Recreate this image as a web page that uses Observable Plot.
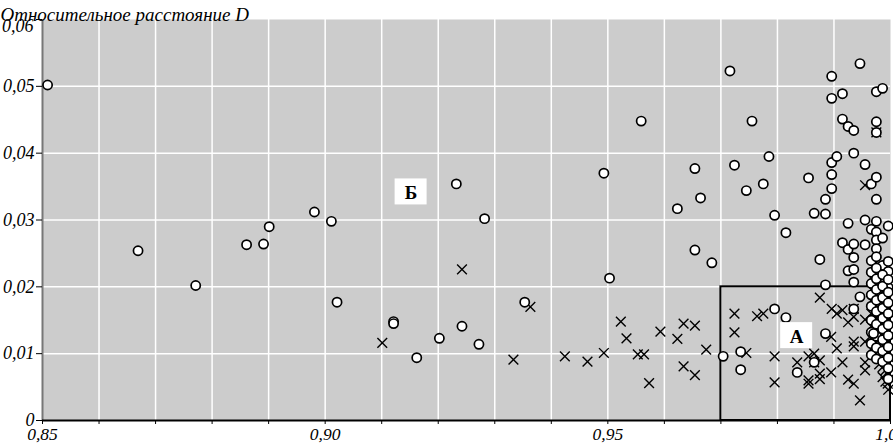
<!DOCTYPE html>
<html><head><meta charset="utf-8">
<script src="https://cdn.jsdelivr.net/npm/d3@7"></script>
<script src="https://cdn.jsdelivr.net/npm/@observablehq/plot@0.6"></script>
<style>body{margin:0;background:#fff} svg{display:block}</style>
</head><body><div id="chart"></div>
<script>
const title = "Относительное расстояние D";
const xTicks = [0.85,0.86,0.87,0.88,0.89,0.90,0.91,0.92,0.93,0.94,0.95,0.96,0.97,0.98,0.99,1.00];
const yTicks = [0,0.01,0.02,0.03,0.04,0.05,0.06];
const yTopTick = [0.06];
const xGrid = [0.86,0.87,0.88,0.89,0.90,0.91,0.92,0.93,0.94,0.95,0.96,0.97,0.98,0.99];
const yGrid = [0.01,0.02,0.03,0.04,0.05];
const boxA = [{x1: 0.97, x2: 1.00, y1: 0, y2: 0.02}];
const regionLabels = [{text: "А", x: 0.9834, y: 0.0127}, {text: "Б", x: 0.9152, y: 0.0342}];

// circles: [x, y]
const circles = [
[0.8509,0.0502],[0.8669,0.0254],[0.8771,0.0202],[0.8861,0.0263],[0.8891,0.0264],[0.8901,0.0290],
[0.8981,0.0312],[0.9011,0.0298],[0.9021,0.0177],[0.9121,0.0148],[0.9121,0.0145],[0.9162,0.0094],
[0.9202,0.0123],[0.9232,0.0354],[0.9242,0.0141],[0.9272,0.0114],[0.9282,0.0302],[0.9353,0.0177],
[0.9493,0.0370],[0.9503,0.0213],[0.9559,0.0448],[0.9623,0.0317],[0.9654,0.0377],[0.9654,0.0255],
[0.9664,0.0333],[0.9684,0.0236],[0.9704,0.0096],[0.9716,0.0523],[0.9724,0.0382],[0.9735,0.0103],
[0.9735,0.0076],[0.9745,0.0344],[0.9755,0.0448],[0.9775,0.0354],[0.9785,0.0395],[0.9795,0.0307],
[0.9795,0.0167],[0.9815,0.0281],[0.9815,0.0154],[0.9835,0.0072],[0.9855,0.0363],[0.9865,0.0310],
[0.9865,0.0087],[0.9875,0.0241],[0.9885,0.0331],[0.9885,0.0309],[0.9885,0.0203],[0.9885,0.0130],
[0.9896,0.0515],[0.9896,0.0482],[0.9896,0.0386],[0.9896,0.0368],[0.9896,0.0347],[0.9905,0.0395],
[0.9915,0.0489],[0.9915,0.0451],[0.9915,0.0266],[0.9925,0.0440],[0.9925,0.0295],[0.9925,0.0256],
[0.9925,0.0224],[0.9935,0.0434],[0.9935,0.0400],[0.9935,0.0264],[0.9935,0.0244],[0.9935,0.0226],
[0.9935,0.0207],[0.9935,0.0167],[0.9946,0.0534],[0.9946,0.0185],[0.9955,0.0383],[0.9955,0.0300],
[0.9955,0.0263],[0.9966,0.0354],[0.9966,0.0286],[0.9966,0.0239],[0.9975,0.0492],[0.9975,0.0447],
[0.9975,0.0431],[0.9975,0.0364],[0.9975,0.0331],[0.9975,0.0298],[0.9975,0.0282],[0.9975,0.0270],
[0.9975,0.0257],[0.9986,0.0497],[0.9986,0.0273],[0.9986,0.0232],[0.9996,0.0291],[0.9996,0.0238],
[0.9996,0.0223],[0.9996,0.0199],
[0.9966,0.0222],[0.9966,0.0205],[0.9966,0.0188],[0.9966,0.0171],[0.9966,0.0150],[0.9966,0.0132],
[0.9966,0.0115],[0.9966,0.0098],[0.9975,0.0245],[0.9975,0.0228],[0.9975,0.0212],[0.9975,0.0196],
[0.9975,0.0180],[0.9975,0.0163],[0.9975,0.0144],[0.9975,0.0126],[0.9975,0.0109],[0.9975,0.0092],
[0.9986,0.0218],[0.9986,0.0201],[0.9986,0.0184],[0.9986,0.0168],[0.9986,0.0153],[0.9986,0.0137],
[0.9986,0.0121],[0.9986,0.0104],[0.9986,0.0088],[0.9996,0.0211],[0.9996,0.0192],[0.9996,0.0176],
[0.9996,0.0160],[0.9996,0.0143],[0.9996,0.0127],[0.9996,0.0110],[0.9996,0.0094],[0.9996,0.0078],
[0.9996,0.0062],[0.9970,0.0130]
];

// crosses: [x, y]
const crosses = [
[0.9101,0.0116],[0.9242,0.0226],[0.9333,0.0091],[0.9363,0.0170],[0.9424,0.0096],[0.9464,0.0088],
[0.9493,0.0101],[0.9523,0.0148],[0.9533,0.0123],[0.9553,0.0099],[0.9564,0.0099],[0.9573,0.0056],
[0.9593,0.0133],[0.9623,0.0122],[0.9634,0.0145],[0.9634,0.0081],[0.9654,0.0142],[0.9654,0.0068],
[0.9674,0.0106],[0.9724,0.0160],[0.9724,0.0132],[0.9745,0.0101],[0.9764,0.0156],[0.9775,0.0160],
[0.9795,0.0096],[0.9795,0.0057],[0.9835,0.0087],[0.9855,0.0096],[0.9855,0.0060],[0.9855,0.0055],
[0.9865,0.0100],[0.9865,0.0087],[0.9875,0.0184],[0.9875,0.0090],[0.9875,0.0070],[0.9875,0.0062],
[0.9895,0.0125],[0.9895,0.0072],[0.9896,0.0167],[0.9905,0.0160],[0.9905,0.0108],[0.9915,0.0165],
[0.9915,0.0087],[0.9925,0.0147],[0.9925,0.0061],[0.9935,0.0155],[0.9935,0.0167],[0.9935,0.0118],
[0.9935,0.0111],[0.9935,0.0055],[0.9946,0.0030],[0.9955,0.0352],[0.9955,0.0151],[0.9955,0.0118],
[0.9955,0.0087],[0.9955,0.0075],[0.9975,0.0431],[0.9986,0.0065],[0.9995,0.0055],
[0.9966,0.0213],[0.9966,0.0196],[0.9966,0.0179],[0.9966,0.0160],[0.9966,0.0141],[0.9966,0.0124],
[0.9966,0.0107],[0.9975,0.0237],[0.9975,0.0203],[0.9975,0.0187],[0.9975,0.0172],[0.9975,0.0154],
[0.9975,0.0135],[0.9975,0.0117],[0.9975,0.0100],[0.9986,0.0226],[0.9986,0.0193],[0.9986,0.0176],
[0.9986,0.0160],[0.9986,0.0145],[0.9986,0.0129],[0.9986,0.0112],[0.9986,0.0096],[0.9986,0.0080],
[0.9996,0.0203],[0.9996,0.0184],[0.9996,0.0168],[0.9996,0.0151],[0.9996,0.0135],[0.9996,0.0118],
[0.9996,0.0102],[0.9996,0.0086],[0.9996,0.0070],[0.9996,0.0046],[0.9991,0.0058],[0.9980,0.0084],
[0.9991,0.0190],[0.9991,0.0157],[0.9991,0.0140],[0.9991,0.0123],[0.9991,0.0098],[0.9991,0.0075],
[0.9999,0.0193],[0.9999,0.0160],[0.9999,0.0127],[0.9999,0.0093],[0.9999,0.0063],[0.9980,0.0150]
];

const fmt = d => d === 0 ? "0" : d.toFixed(2).replace(".", ",");
const fmtY = d => d === 0.06 ? "" : fmt(d);
const fmtX = d => (Math.round(d * 100) % 5 === 0) ? d.toFixed(2).replace(".", ",") : "";

const chart = Plot.plot({
  width: 893, height: 446,
  marginLeft: 42, marginRight: 3, marginTop: 19, marginBottom: 26,
  style: {fontFamily: "'Liberation Serif', 'Times New Roman', serif", fontStyle: "italic", fontSize: "18px", background: "#fff", color: "#000"},
  x: {domain: [0.85, 1.0]},
  y: {domain: [0, 0.06]},
  marks: [
    Plot.frame({fill: "#cccccc", stroke: null}),
    Plot.gridX(xGrid, {stroke: "#fff", strokeOpacity: 1, strokeWidth: 1.5}),
    Plot.gridY(yGrid, {stroke: "#fff", strokeOpacity: 1, strokeWidth: 1.5}),
    Plot.ruleX([0.85], {stroke: "#777", strokeWidth: 2}),
    Plot.axisX(xTicks, {tickSize: 4, tickPadding: 3, tickFormat: fmtX, label: null, fontSize: 17.5, stroke: "#000"}),
    Plot.axisY(yTicks, {tickSize: 6, tickPadding: 2, tickFormat: fmtY, label: null, fontSize: 18, stroke: "#000"}),
    Plot.text(yTopTick, {y: d => d, text: d => fmt(d), frameAnchor: "left", textAnchor: "end", dx: -9, dy: 7, fontSize: 18, fill: "#000"}),
    Plot.rect(boxA, {x1: "x1", x2: "x2", y1: "y1", y2: "y2", fill: "none", stroke: "#000", strokeWidth: 2}),
    Plot.ruleY([0], {stroke: "#000", strokeWidth: 2}),
    Plot.dot(crosses, {x: d => d[0], y: d => d[1], symbol: "times", r: 4.5, stroke: "#000", strokeWidth: 1.4}),
    Plot.dot(circles, {x: d => d[0], y: d => d[1], symbol: "circle", r: 4.6, fill: "#fff", stroke: "#000", strokeWidth: 1.7}),
    Plot.rect(regionLabels, {x1: "x", x2: "x", y1: "y", y2: "y", insetLeft: -16, insetRight: -16, insetTop: -13, insetBottom: -13, fill: "#fff"}),
    Plot.text(regionLabels, {x: "x", y: "y", text: "text", fontSize: 19, fontWeight: "bold", fontStyle: "normal", fill: "#000", dy: 1}),
    Plot.text([title], {frameAnchor: "top-left", textAnchor: "start", dx: -42, dy: -12, fontSize: 19, fill: "#000"})
  ]
});
document.getElementById("chart").appendChild(chart);
</script>
</body></html>
